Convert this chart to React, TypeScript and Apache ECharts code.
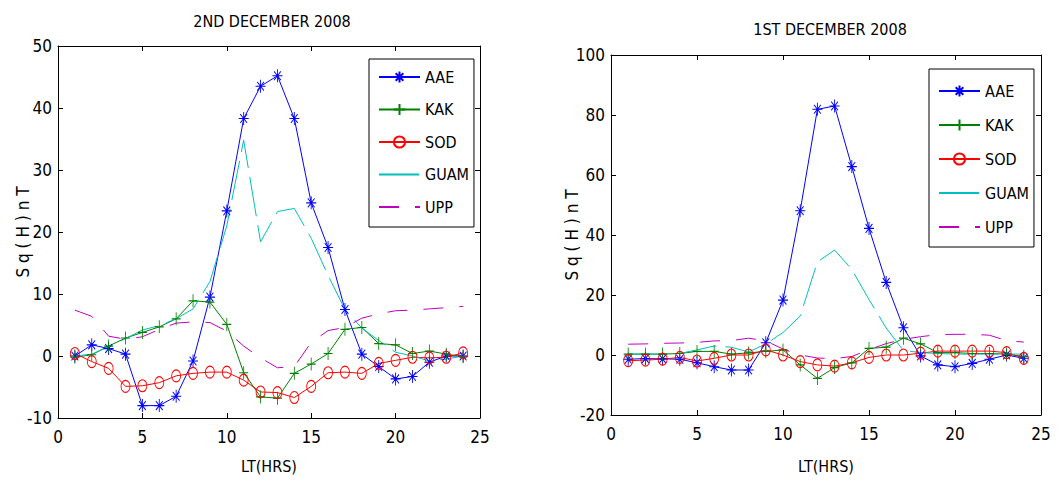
import React, { useEffect, useRef } from 'react';
import * as echarts from 'echarts';

// Local time (hours)
const hours = [1, 2, 3, 4, 5, 6, 7, 8, 9, 10, 11, 12, 13, 14, 15, 16, 17, 18, 19, 20, 21, 22, 23, 24];
const stations = ['AAE', 'KAK', 'SOD', 'GUAM', 'UPP'];
const xTicks = [0, 5, 10, 15, 20, 25];

// 2nd December 2008 (left panel)
const aaeDec2 = [0, 1.8, 1.2, 0.3, -8.0, -8.0, -6.5, -0.8, 9.5, 23.4, 38.3, 43.5, 45.2, 38.3, 24.7, 17.5, 7.5, 0.3, -1.7, -3.7, -3.3, -1.0, 0, 0];
const kakDec2 = [-0.2, 0.2, 1.6, 2.9, 3.8, 4.7, 6.0, 8.9, 8.7, 5.1, -2.7, -6.6, -6.8, -2.8, -1.3, 0.4, 4.3, 4.6, 2.0, 1.8, 0.4, 0.8, 0.3, -0.1];
const sodDec2 = [0.4, -0.9, -2.0, -4.9, -4.8, -4.3, -3.2, -2.8, -2.6, -2.6, -3.9, -5.8, -5.9, -6.7, -4.9, -2.7, -2.6, -2.8, -1.2, -0.7, -0.2, -0.3, -0.2, 0.5];
const guamDec2 = [0, 0.3, 1.5, 2.8, 4.2, 4.9, 6.0, 7.6, 12.0, 21.0, 34.8, 18.4, 23.3, 23.8, 19.0, 13.0, 7.5, 4.5, 2.5, 0.6, 0, -0.8, -0.5, 0];
const uppDec2 = [7.4, 6.4, 3.2, 2.7, 3.1, 4.3, 5.3, 5.5, 5.4, 4.0, 1.6, -0.3, -1.9, -1.7, 2.2, 4.1, 4.6, 6.1, 6.8, 7.3, 7.4, 7.6, 7.8, 8.0];

// 1st December 2008 (right panel)
const aaeDec1 = [-1.4, -1.2, -1.3, -1.4, -2.6, -3.9, -5.0, -5.0, 4.1, 18.3, 48.1, 81.9, 83.0, 62.8, 42.2, 24.2, 9.1, -0.3, -3.3, -3.9, -2.8, -1.4, 0, -1.1];
const kakDec1 = [0.3, 0.3, 0.3, 0.5, 1.2, 1.2, 0.3, 0.7, 1.2, 1.7, -3.3, -7.8, -4.2, -2.6, 2.2, 2.6, 5.6, 3.7, 0.8, 0.8, 0.5, 0.5, 0.3, -0.5];
const sodDec1 = [-1.9, -1.7, -1.4, -0.8, -2.0, -1.1, 0, 0, 1.7, 0, -2.2, -3.3, -3.7, -2.6, -0.8, 0, 0, 0.6, 1.3, 1.3, 1.3, 1.3, 0.8, -1.1];
const guamDec1 = [0.3, 0.3, 0.3, 0.5, 1.7, 3.0, 2.6, 1.0, 3.7, 7.5, 13.0, 31.0, 35.0, 28.5, 18.5, 9.0, 1.5, 0.8, 0.5, 0.3, 0.3, 0.3, 0.3, 0.3];
const uppDec1 = [3.6, 3.7, 3.9, 4.0, 4.2, 4.7, 4.8, 5.6, 4.7, 2.0, 0, -1.0, -1.2, -0.5, 1.8, 3.8, 5.2, 6.1, 6.8, 6.9, 6.9, 6.6, 4.8, 4.3];

const FONT = "'Liberation Sans Narrow', 'Arial Narrow', 'DejaVu Sans Condensed', sans-serif";
const ASTERISK = 'path://M5,0L5,10M0,5L10,5M1.6,1.6L8.4,8.4M8.4,1.6L1.6,8.4';
const PLUS = 'path://M5,0L5,10M0,5L10,5';
const CIRCLE = 'path://M10,5A5,5,0,1,1,0,5A5,5,0,1,1,10,5Z';

const styles: Record<string, any> = {
  AAE: { color: '#0000ff', symbol: ASTERISK, symbolSize: [10, 13], type: 'solid' },
  KAK: { color: '#008000', symbol: PLUS, symbolSize: [9, 13], type: 'solid' },
  SOD: { color: '#ff0000', symbol: CIRCLE, symbolSize: [9, 12], type: 'solid' },
  GUAM: { color: '#00bfbf', symbol: 'none', symbolSize: 0, type: [40, 9] },
  UPP: { color: '#bf00bf', symbol: 'none', symbolSize: 0, type: [20, 16] },
};

function makeSeries(name: string, values: number[], axisIndex: number) {
  const s = styles[name];
  return {
    type: 'line',
    name,
    xAxisIndex: axisIndex,
    yAxisIndex: axisIndex,
    data: hours.map((h, i) => [h, values[i]]),
    symbol: s.symbol,
    symbolSize: s.symbolSize,
    showSymbol: s.symbol !== 'none',
    lineStyle: { color: s.color, width: 1, type: s.type },
    itemStyle: { color: 'rgba(0,0,0,0)', borderColor: s.color, borderWidth: 1 },
    emphasis: { disabled: true },
    z: 3,
  };
}

const axisCommon = {
  axisLine: { show: true, onZero: false, lineStyle: { color: '#000', width: 1 } },
  axisTick: { show: true, inside: true, length: 5, lineStyle: { color: '#000' } },
  splitLine: { show: false },
};

const labelStyle = { color: '#000', fontSize: 17, fontFamily: FONT };

function xAxes(gridIndex: number, nameGap: number) {
  return [
    {
      ...axisCommon,
      gridIndex,
      type: 'value',
      min: xTicks[0],
      max: xTicks[xTicks.length - 1],
      interval: 5,
      position: 'bottom',
      axisLabel: { ...labelStyle, margin: 10 },
      name: 'LT(HRS)',
      nameLocation: 'middle',
      nameGap,
      nameMoveOverlap: false,
      nameTextStyle: { color: '#000', fontSize: 16, fontFamily: FONT },
    },
    {
      ...axisCommon,
      gridIndex,
      type: 'value',
      min: xTicks[0],
      max: xTicks[xTicks.length - 1],
      interval: 5,
      position: 'top',
      axisLabel: { show: false },
    },
  ];
}

function yAxes(gridIndex: number, min: number, max: number, interval: number, nameGap: number) {
  return [
    {
      ...axisCommon,
      gridIndex,
      type: 'value',
      min,
      max,
      interval,
      position: 'left',
      axisLabel: { ...labelStyle, margin: 6 },
      name: 'S q ( H ) n T',
      nameLocation: 'middle',
      nameGap,
      nameMoveOverlap: false,
      nameTextStyle: { color: '#000', fontSize: 17, fontFamily: FONT },
    },
    {
      ...axisCommon,
      gridIndex,
      type: 'value',
      min,
      max,
      interval,
      position: 'right',
      axisLabel: { show: false },
    },
  ];
}

const hideSymbol = { borderColor: 'rgba(0,0,0,0)', borderWidth: 0, color: 'rgba(0,0,0,0)' };

function legendAt(left: number, top: number, gap: number, padTop: number) {
  return {
    left,
    top,
    orient: 'vertical',
    data: stations.map((n) => (styles[n].symbol === 'none' ? { name: n, itemStyle: hideSymbol } : { name: n })),
    itemWidth: 41,
    itemHeight: 14,
    itemGap: gap,
    padding: [padTop, 5, 12, 9],
    borderColor: '#000',
    borderWidth: 1,
    borderRadius: 0,
    backgroundColor: '#fff',
    selectedMode: false,
    textStyle: { color: '#000', fontSize: 16, fontFamily: FONT },
  };
}

export default function App() {
  const ref = useRef<HTMLDivElement>(null);
  useEffect(() => {
    document.body.style.margin = '0';
    const chart = echarts.init(ref.current!, undefined, { renderer: 'svg' });
    const option = {
      animation: false,
      backgroundColor: '#fff',
      title: [
        {
          text: '2ND DECEMBER 2008',
          left: 267,
          top: 8,
          textAlign: 'center',
          textStyle: { color: '#000', fontSize: 16, fontWeight: 'normal', fontFamily: FONT },
        },
        {
          text: '1ST DECEMBER 2008',
          left: 825,
          top: 16,
          textAlign: 'center',
          textStyle: { color: '#000', fontSize: 16, fontWeight: 'normal', fontFamily: FONT },
        },
      ],
      grid: [
        { left: 58, top: 46, width: 422, height: 372, show: false },
        { left: 611, top: 55, width: 430, height: 360, show: false },
      ],
      xAxis: [...xAxes(0, 40), ...xAxes(1, 43)],
      yAxis: [...yAxes(0, -10, 50, 10, 27), ...yAxes(1, -20, 100, 20, 31)],
      legend: [legendAt(369, 59, 16.5, 10), legendAt(929, 69, 18, 14)],
      series: [
        makeSeries('AAE', aaeDec2, 0),
        makeSeries('KAK', kakDec2, 0),
        makeSeries('SOD', sodDec2, 0),
        makeSeries('GUAM', guamDec2, 0),
        makeSeries('UPP', uppDec2, 0),
        makeSeries('AAE', aaeDec1, 2),
        makeSeries('KAK', kakDec1, 2),
        makeSeries('SOD', sodDec1, 2),
        makeSeries('GUAM', guamDec1, 2),
        makeSeries('UPP', uppDec1, 2),
      ],
    };
    chart.setOption(option as any);
    return () => chart.dispose();
  }, []);
  return <div ref={ref} style={{ width: 1062, height: 481 }} />;
}
